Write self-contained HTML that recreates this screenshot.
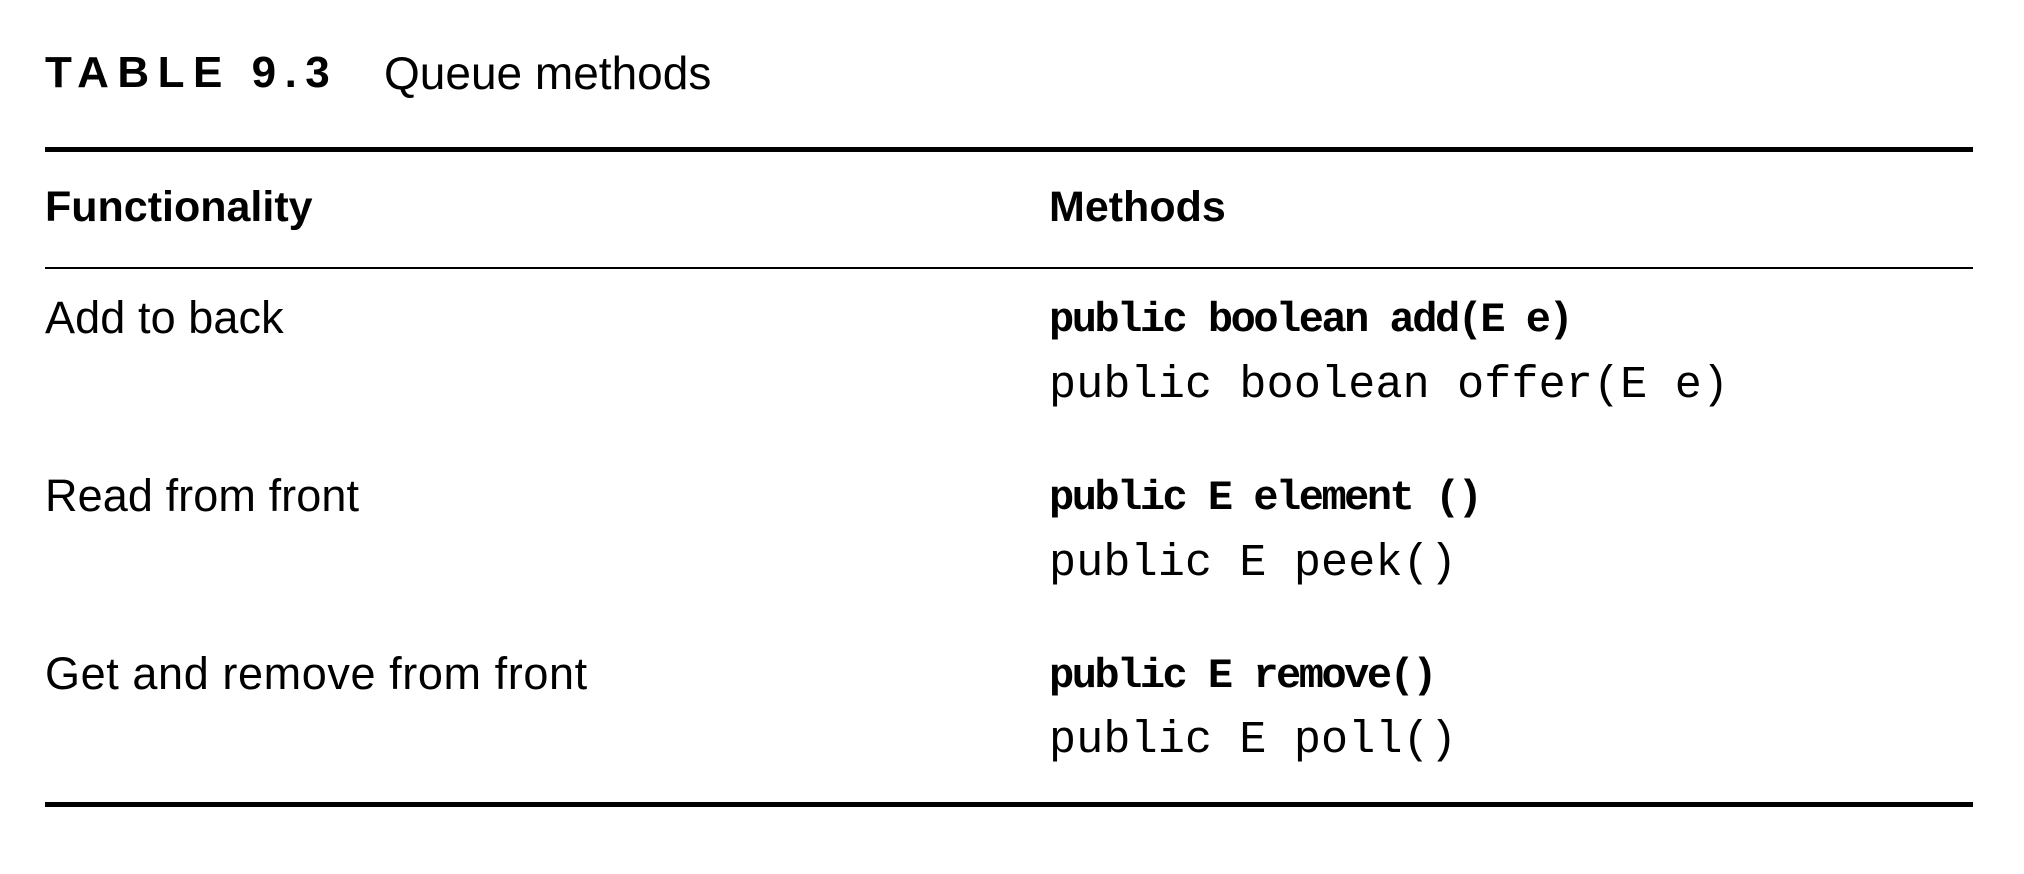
<!DOCTYPE html>
<html><head><meta charset="utf-8"><style>
html,body{margin:0;padding:0;background:#fff;}
body{width:2024px;height:874px;position:relative;overflow:hidden;color:#000;}
.t{position:absolute;white-space:nowrap;line-height:1;font-family:"Liberation Sans",sans-serif;}
.m{font-family:"Liberation Mono",monospace;}
.r{position:absolute;background:#000;left:45px;width:1928px;}
</style></head><body>
<div class="t" style="left:45px;top:51px;font-size:44px;font-weight:bold;letter-spacing:8.5px;">TABLE 9.3</div>
<div class="t" style="left:384px;top:50px;font-size:46px;">Queue methods</div>
<div class="r" style="top:147px;height:5px;"></div>
<div class="t" style="left:45px;top:186px;font-size:43px;font-weight:bold;">Functionality</div>
<div class="t" style="left:1049px;top:186px;font-size:43px;font-weight:bold;">Methods</div>
<div class="r" style="top:267px;height:2px;"></div>

<div class="t" style="left:45px;top:295px;font-size:45px;letter-spacing:0.1px;">Add to back</div>
<div class="t m" style="left:1049px;top:299px;font-size:42px;font-weight:bold;letter-spacing:-2.5px;">public boolean add(E e)</div>
<div class="t m" style="left:1049px;top:363px;font-size:45px;letter-spacing:0.2px;">public boolean offer(E e)</div>

<div class="t" style="left:45px;top:473px;font-size:45px;letter-spacing:0.1px;">Read from front</div>
<div class="t m" style="left:1049px;top:477px;font-size:42px;font-weight:bold;letter-spacing:-2.5px;">public E element ()</div>
<div class="t m" style="left:1049px;top:541px;font-size:45px;letter-spacing:0.2px;">public E peek()</div>

<div class="t" style="left:45px;top:651px;font-size:45px;letter-spacing:0.6px;">Get and remove from front</div>
<div class="t m" style="left:1049px;top:655px;font-size:42px;font-weight:bold;letter-spacing:-2.5px;">public E remove()</div>
<div class="t m" style="left:1049px;top:718px;font-size:45px;letter-spacing:0.2px;">public E poll()</div>

<div class="r" style="top:802px;height:5px;"></div>
</body></html>
